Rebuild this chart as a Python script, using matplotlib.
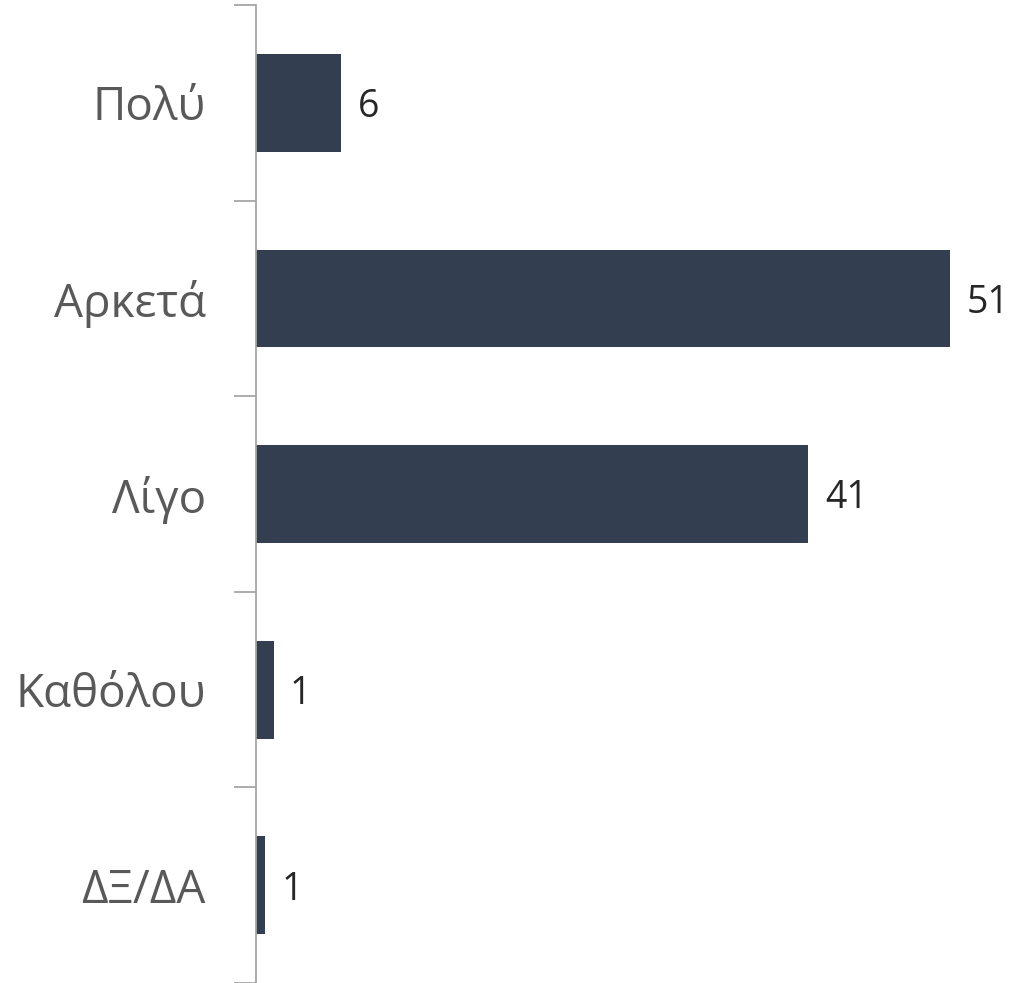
import matplotlib
matplotlib.use("Agg")
import matplotlib.pyplot as plt

categories = ["Πολύ", "Αρκετά", "Λίγο", "Καθόλου", "ΔΞ/ΔΑ"]
values = [6.25, 51.0, 40.6, 1.3, 0.66]
value_labels = ["6", "51", "41", "1", "1"]

plt.rcParams['font.family'] = ['Open Sans', 'DejaVu Sans']

fig = plt.figure(figsize=(10.10, 9.83), dpi=100)
ax = fig.add_axes([256/1010, 0, 754/1010, 978/983])

y = range(len(categories))
ax.barh(y, values, height=0.5, color="#333f50")
ax.set_ylim(len(categories) - 0.5, -0.5)
ax.set_xlim(0, 754/13.608)

# category boundaries get the tick marks, labels sit between them
ax.set_yticks([i - 0.5 for i in range(len(categories) + 1)], minor=False)
ax.set_yticklabels([])
ax.set_yticks(list(y), minor=True)
ax.set_yticklabels(categories, minor=True, fontsize=33, color="#595959",
                   va="center_baseline")
ax.tick_params(axis="y", which="major", length=16, width=1.3, color="#a6a6a6", direction="out")
ax.tick_params(axis="y", which="minor", length=0, pad=36)

for i, (v, lab) in enumerate(zip(values, value_labels)):
    ax.text(v + 1.2, i, lab, va="center_baseline", ha="left", fontsize=27, color="#262626")

ax.set_xticks([])
for s in ["top", "right", "bottom"]:
    ax.spines[s].set_visible(False)
ax.spines["left"].set_color("#a6a6a6")
ax.spines["left"].set_linewidth(1.3)

fig.savefig("out.png", dpi=100)
